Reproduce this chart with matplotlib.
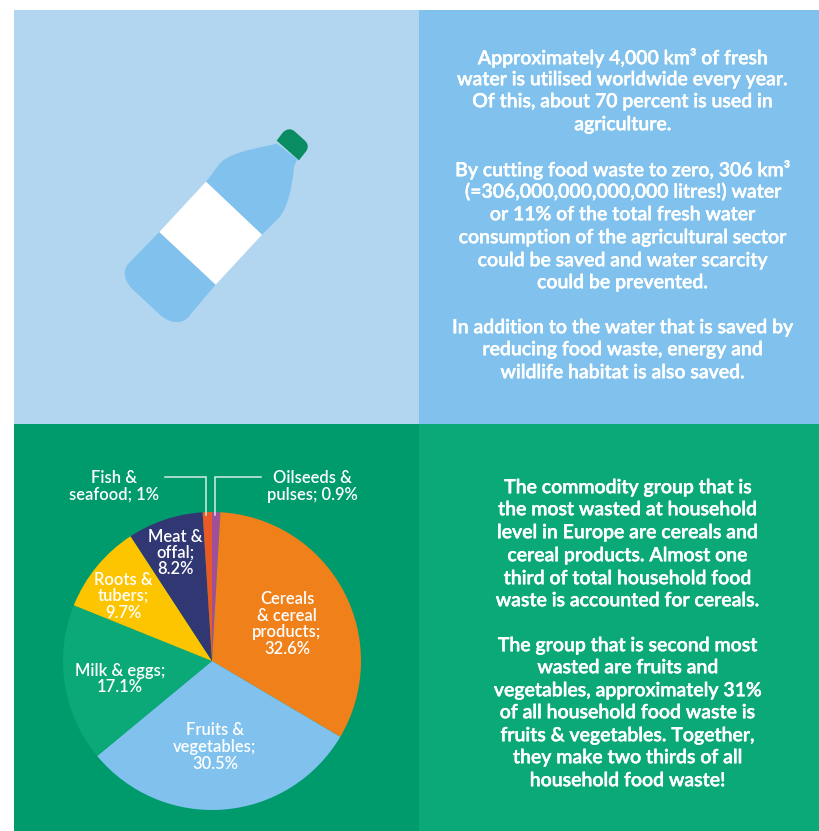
import matplotlib
matplotlib.use("Agg")
import matplotlib.pyplot as plt
import matplotlib.patheffects as pe
from matplotlib.patches import Rectangle, PathPatch, Polygon
from matplotlib.path import Path

W, H = 820, 831
FONT = "Lato"
PALE_BLUE = "#B3D6F0"
SKY = "#80C2ED"
DEEP_GREEN = "#009B6D"
SOFT_GREEN = "#0BA977"

# Household food waste by commodity group, clockwise from twelve o'clock
groups = ["Oilseeds & pulses", "Cereals & cereal products", "Fruits & vegetables",
          "Milk & eggs", "Roots & tubers", "Meat & offal", "Fish & seafood"]
shares = [0.9, 32.6, 30.5, 17.1, 9.7, 8.2, 1.0]
slice_colors = ["#A0509A", "#F0801A", SKY, SOFT_GREEN, "#FDC500", "#303772", "#EA5A24"]

water_lines = [
    (57, "Approximately 4,000 km³ of fresh"),
    (79, "water is utilised worldwide every year."),
    (101, "Of this, about 70 percent is used in"),
    (124, "agriculture."),
    (169, "By cutting food waste to zero, 306 km³"),
    (191, "(=306,000,000,000,000 litres!) water"),
    (214, "or 11% of the total fresh water"),
    (237, "consumption of the agricultural sector"),
    (260, "could be saved and water scarcity"),
    (282, "could be prevented."),
    (327, "In addition to the water that is saved by"),
    (349, "reducing food waste, energy and"),
    (372, "wildlife habitat is also saved."),
]
waste_lines = [
    (487, "The commodity group that is"),
    (509, "the most wasted at household"),
    (532, "level in Europe are cereals and"),
    (555, "cereal products. Almost one"),
    (578, "third of total household food"),
    (600, "waste is accounted for cereals."),
    (645, "The group that is second most"),
    (667, "wasted are fruits and"),
    (690, "vegetables, approximately 31%"),
    (712, "of all household food waste is"),
    (735, "fruits & vegetables. Together,"),
    (757, "they make two thirds of all"),
    (780, "household food waste!"),
]
pie_labels = [
    (114, 477, "Fish &"), (114, 494, "seafood; 1%"),
    (312, 477, "Oilseeds &"), (312, 494, "pulses; 0.9%"),
    (175, 536, "Meat &"), (175, 552, "offal;"), (175, 568, "8.2%"),
    (123, 579, "Roots &"), (123, 595, "tubers;"), (123, 612, "9.7%"),
    (287, 598, "Cereals"), (287, 615, "& cereal"), (287, 631, "products;"), (287, 648, "32.6%"),
    (120, 670, "Milk & eggs;"), (120, 686, "17.1%"),
    (215, 729, "Fruits &"), (215, 746, "vegetables;"), (215, 763, "30.5%"),
]

fig = plt.figure(figsize=(W / 100, H / 100), dpi=100, facecolor="white")
ax = fig.add_axes([0, 0, 1, 1])


def flip(y):
    return H - y


# Four background panels
for x0, y0, x1, y1, color in [(14, 10, 419, 424, PALE_BLUE), (419, 10, 820, 424, SKY),
                              (14, 424, 419, 831, DEEP_GREEN), (419, 424, 820, 831, SOFT_GREEN)]:
    ax.add_patch(Rectangle((x0, flip(y1)), x1 - x0, y1 - y0, fc=color, ec="none", zorder=1))


# Bottle illustration, sketched on a 3x grid anchored at (100, 110)
def grid(px, py):
    return (100 + px / 3, flip(110 + py / 3))


def shape(steps):
    verts, codes = [], []
    for code, pts in steps:
        for p in pts:
            verts.append(grid(*p))
            codes.append(code)
    return Path(verts, codes)


M, L, C = Path.MOVETO, Path.LINETO, Path.CURVE4
upper_body = shape([(M, [(530, 100)]), (C, [(500, 112), (410, 118), (365, 155)]),
                    (C, [(350, 170), (335, 195), (318, 215)]),
                    (L, [(486, 374), (535, 325)]),
                    (C, [(565, 295), (578, 220), (582, 170)]),
                    (L, [(592, 148), (530, 100)])])
lower_body = shape([(M, [(178, 366)]), (L, [(88, 458)]),
                    (C, [(65, 480), (72, 515), (100, 540)]),
                    (L, [(175, 610)]),
                    (C, [(205, 640), (250, 648), (270, 615)]),
                    (L, [(347, 524), (178, 366)])])
cap = shape([(M, [(530, 92)]), (L, [(548, 68)]),
             (C, [(560, 55), (575, 55), (585, 65)]),
             (L, [(615, 92)]),
             (C, [(628, 105), (624, 118), (615, 128)]),
             (L, [(597, 151), (530, 92)])])
for path, color in [(upper_body, SKY), (lower_body, SKY), (cap, "#0A8C62")]:
    ax.add_patch(PathPatch(path, fc=color, ec="none", zorder=2))
ax.add_patch(Polygon([grid(318, 215), grid(486, 374), grid(347, 524), grid(178, 366)],
                     closed=True, fc="white", ec="none", zorder=3))

# Pie of household food waste
wedges, _ = ax.pie(shares, colors=slice_colors, startangle=90, counterclock=False,
                   center=(212, flip(661)), radius=149, frame=False,
                   wedgeprops={"linewidth": 0})
for w in wedges:
    w.set_zorder(4)

# Leader lines for the two thin slices
for xs, ys in [((165, 206.5, 206.5), (477, 477, 515)), ((261, 215, 215), (477, 477, 515))]:
    ax.plot(xs, [flip(v) for v in ys], color="#D5EDE4", lw=1.1, zorder=5, solid_joinstyle="miter")


def write(x, y, s, size, stroke=None):
    # A thin white stroke brings the regular weight up to a medium look
    effects = [pe.withStroke(linewidth=stroke, foreground="white")] if stroke else None
    ax.text(x, flip(y + 0.7), s, ha="center", va="center", color="white", family=FONT,
            fontsize=size, fontweight="semibold", zorder=6, path_effects=effects)


for y, s in water_lines:
    write(623, y, s, 14.0, 0.3)
for y, s in waste_lines:
    write(628, y, s, 14.0, 0.3)
for x, y, s in pie_labels:
    write(x, y, s, 11.9)

ax.set_xlim(0, W)
ax.set_ylim(0, H)
ax.set_aspect("auto")
ax.set_xticks([])
ax.set_yticks([])
ax.axis("off")
fig.savefig("out.png", dpi=100, facecolor="white")
